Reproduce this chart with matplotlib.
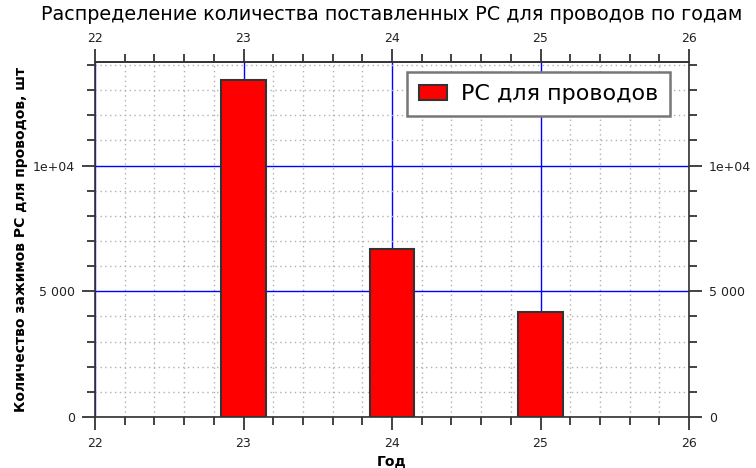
import matplotlib.pyplot as plt
from matplotlib.ticker import MultipleLocator, FixedLocator, FuncFormatter

# данные
years = [23, 24, 25]
counts = [13400, 6680, 4180]
series_name = 'РС для проводов'
x_ticks = [22, 23, 24, 25, 26]

def fmt_y(v, pos):
    if v == 0:
        return '0'
    if v >= 10000:
        return '%.0e' % v
    return '{:,.0f}'.format(v).replace(',', ' ')

fig = plt.figure(figsize=(7.56, 4.68), dpi=100)
ax = fig.add_axes([95/756, 1 - 417/468, 594/756, 355/468])

ax.bar(years, counts, width=0.3, color='#ff0000', edgecolor='#333333',
       linewidth=1.5, label=series_name, zorder=3)

ax.set_xlim(22, 26)
ax.set_ylim(0, 14120)
ax.xaxis.set_major_locator(FixedLocator(x_ticks))
ax.xaxis.set_minor_locator(MultipleLocator(0.2))
ax.yaxis.set_major_locator(MultipleLocator(5000))
ax.yaxis.set_minor_locator(MultipleLocator(1000))
ax.yaxis.set_major_formatter(FuncFormatter(fmt_y))

# сетка
ax.grid(True, which='major', color='#0000ff', linewidth=1, zorder=1)
ax.grid(True, which='minor', color='#b0b0b0', linestyle=(0, (1, 2.5)), linewidth=1, zorder=0)
ax.set_axisbelow(True)

ax.tick_params(which='both', direction='out', top=False, right=True,
               labelright=True, labelsize=9, colors='#222222', pad=5)
ax.tick_params(which='major', length=9.5, width=1.2)
ax.tick_params(which='minor', length=5.5, width=1.2)
for s in ax.spines.values():
    s.set_color('#333333')
    s.set_linewidth(1.2)

# верхняя ось
minor_top = [t / 5 for t in range(22 * 5, 26 * 5 + 1) if t % 5]
top = ax.secondary_xaxis('top')
top.xaxis.set_major_locator(FixedLocator(x_ticks))
top.xaxis.set_minor_locator(FixedLocator(minor_top))
top.tick_params(which='both', direction='out', labelsize=9, colors='#222222', pad=3)
top.tick_params(which='major', length=9.5, width=1.2)
top.tick_params(which='minor', length=5.5, width=1.2)
top.spines['top'].set_color('#333333')
top.spines['top'].set_linewidth(1.2)

ax.set_xlabel('Год', fontsize=10, fontweight='bold')
ax.xaxis.set_label_coords(0.5, -0.107)
ax.set_ylabel('Количество зажимов РС для проводов, шт', fontsize=10,
              fontweight='bold')
ax.yaxis.set_label_coords(-0.112, 0.5)
fig.text(392/756, 1 - 15/468, 'Распределение количества поставленных РС для проводов по годам',
         ha='center', va='center', fontsize=13.8)

leg = ax.legend(loc='upper right', bbox_to_anchor=(0.968, 0.972), borderaxespad=0,
                fontsize=16, fancybox=False, framealpha=1, edgecolor='#777777',
                handlelength=1.25, handleheight=0.65, handletextpad=0.6, borderpad=0.55)
leg.get_frame().set_linewidth(1.8)

fig.savefig('out.png', dpi=100)
